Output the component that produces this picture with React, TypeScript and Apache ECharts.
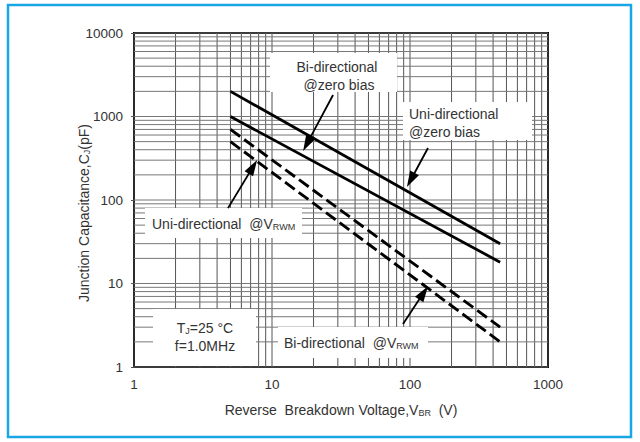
import React, { useEffect, useRef } from "react";
import * as echarts from "echarts";

// Reverse breakdown voltage (V) at the ends of each straight curve
const V_BR = [5, 450];
// Junction capacitance (pF)
const uniZeroBias = [2000, 30];
const biZeroBias = [1000, 18];
const uniVrwm = [700, 3];
const biVrwm = [500, 2];

// tick labels
const xTicks = [1, 10, 100, 1000];
const yTicks = [1, 10, 100, 1000, 10000];

// log grid line positions
const xGrid = [1, 2, 3, 4, 5, 6, 7, 8, 9, 10, 20, 30, 40, 50, 60, 70, 80, 90, 100, 200, 300, 400, 500, 600, 700, 800, 900, 1000];
const yGrid = [1, 2, 3, 4, 5, 6, 7, 8, 9, 10, 20, 30, 40, 50, 60, 70, 80, 90, 100, 200, 300, 400, 500, 600, 700, 800, 900, 1000, 2000, 3000, 4000, 5000, 6000, 7000, 8000, 9000, 10000];

// annotation arrows: [V start, C start, V tip, C tip]
const arrows = [
  [27.7, 1808, 16.8, 386],
  [135, 420, 95, 143],
  [4.8, 80, 7.8, 301],
  [89, 3.27, 135, 9.3],
];

const FONT = "'Liberation Sans', Arial, Helvetica, sans-serif";
const TXT = "#333";

export default function App() {
  const ref = useRef<HTMLDivElement>(null);
  useEffect(() => {
    if (!ref.current) return;
    const chart = echarts.init(ref.current, null, { renderer: "svg" });
    const pair = (ys: number[]) => V_BR.map((v, i) => [v, ys[i]]);
    const subRich = {
      sub: { fontSize: 9, fontFamily: FONT, fill: TXT, color: TXT, verticalAlign: "bottom", padding: [5, 0, 0, 0] },
    };
    const rect = (x: number, y: number, w: number, h: number) => ({
      type: "rect",
      z: 2,
      shape: { x, y, width: w, height: h },
      style: { fill: "#fff", stroke: "none" },
    });
    const text = (x: number, y: number, t: string, align = "left") => ({
      type: "text",
      z: 6,
      x,
      y,
      style: {
        text: t,
        fontSize: 14,
        fontFamily: FONT,
        fill: TXT,
        textAlign: align,
        textVerticalAlign: "middle",
        rich: subRich,
      },
    });
    chart.setOption({
      animation: false,
      backgroundColor: "#fff",
      grid: {
        left: 134,
        right: 92,
        top: 33,
        bottom: 75,
        show: true,
        borderColor: "#000",
        borderWidth: 2,
        backgroundColor: "transparent",
      },
      xAxis: {
        type: "log",
        logBase: 10,
        min: 1,
        max: 1000,
        axisLine: { show: false },
        axisTick: { show: false },
        splitLine: { show: false },
        axisLabel: {
          fontSize: 13.5,
          color: TXT,
          fontFamily: FONT,
          margin: 10,
          formatter: (v: number) => {
            const r = Math.round(v);
            return xTicks.includes(r) ? String(r) : "";
          },
        },
        name: "Reverse  Breakdown Voltage,V{sub|BR}  (V)",
        nameLocation: "middle",
        nameGap: 36,
        nameTextStyle: { fontSize: 14, color: TXT, fontFamily: FONT, rich: subRich },
      },
      yAxis: {
        type: "log",
        logBase: 10,
        min: 1,
        max: 10000,
        axisLine: { show: false },
        axisTick: { show: true, length: 3, lineStyle: { color: "#555" } },
        splitLine: { show: false },
        axisLabel: {
          fontSize: 13.5,
          color: TXT,
          fontFamily: FONT,
          margin: 11,
          formatter: (v: number) => {
            const r = Math.round(v);
            return yTicks.includes(r) ? String(r) : "";
          },
        },
        name: "Junction Capacitance,C{sub|J}(pF)",
        nameLocation: "middle",
        nameGap: 43,
        nameMoveOverlap: false,
        nameTextStyle: {
          fontSize: 14,
          color: TXT,
          fontFamily: FONT,
          rich: subRich,
          padding: [0, 26, 0, 0],
        },
      },
      series: [
        {
          type: "custom",
          z: 1,
          silent: true,
          data: xGrid.map((v) => [v, 1]),
          renderItem: (_p: any, api: any) => {
            const v = api.value(0);
            const a = api.coord([v, 1]);
            const b = api.coord([v, 10000]);
            return {
              type: "line",
              shape: { x1: a[0], y1: a[1], x2: b[0], y2: b[1] },
              style: { stroke: "#555", lineWidth: 1 },
            };
          },
        },
        {
          type: "custom",
          z: 1,
          silent: true,
          data: yGrid.map((v) => [1, v]),
          renderItem: (_p: any, api: any) => {
            const v = api.value(1);
            const a = api.coord([1, v]);
            const b = api.coord([1000, v]);
            return {
              type: "line",
              shape: { x1: a[0], y1: a[1], x2: b[0], y2: b[1] },
              style: { stroke: "#777", lineWidth: 1 },
            };
          },
        },
        {
          type: "line",
          z: 3,
          data: pair(uniZeroBias),
          symbol: "none",
          lineStyle: { color: "#000", width: 2.8 },
        },
        {
          type: "line",
          z: 3,
          data: pair(biZeroBias),
          symbol: "none",
          lineStyle: { color: "#000", width: 2.8 },
        },
        {
          type: "line",
          z: 3,
          data: pair(uniVrwm),
          symbol: "none",
          lineStyle: { color: "#000", width: 2.9, type: [12, 5] },
        },
        {
          type: "line",
          z: 3,
          data: pair(biVrwm),
          symbol: "none",
          lineStyle: { color: "#000", width: 2.9, type: [12, 5] },
        },
        {
          type: "custom",
          z: 5,
          silent: true,
          data: arrows,
          encode: { x: [0, 2], y: [1, 3] },
          renderItem: (_p: any, api: any) => {
            const a = api.coord([api.value(0), api.value(1)]);
            const b = api.coord([api.value(2), api.value(3)]);
            const dx = b[0] - a[0];
            const dy = b[1] - a[1];
            const len = Math.sqrt(dx * dx + dy * dy);
            const ux = dx / len;
            const uy = dy / len;
            const hl = 16;
            const hw = 5;
            const bx = b[0] - ux * hl;
            const by = b[1] - uy * hl;
            return {
              type: "group",
              children: [
                {
                  type: "line",
                  shape: { x1: a[0], y1: a[1], x2: bx + ux * 2, y2: by + uy * 2 },
                  style: { stroke: "#000", lineWidth: 1.8 },
                },
                {
                  type: "polygon",
                  shape: {
                    points: [
                      [b[0], b[1]],
                      [bx - uy * hw, by + ux * hw],
                      [bx + uy * hw, by - ux * hw],
                    ],
                  },
                  style: { fill: "#000" },
                },
              ],
            };
          },
        },
      ],
      graphic: [
        {
          type: "rect",
          z: 10,
          shape: { x: 8, y: 5, width: 623, height: 432 },
          style: { fill: "none", stroke: "#1aa6e4", lineWidth: 2.5 },
        },
        rect(270, 53, 127, 39),
        rect(403, 102, 129, 38),
        rect(145, 208, 157, 30),
        rect(278, 327, 150, 31),
        rect(153, 309, 103, 57),
        text(337, 67, "Bi-directional", "center"),
        text(339, 85, "@zero bias", "center"),
        text(409, 114, "Uni-directional"),
        text(409, 132, "@zero bias"),
        text(152, 224, "Uni-directional  @V{sub|RWM}"),
        text(284, 343, "Bi-directional  @V{sub|RWM}"),
        text(205, 328, "T{sub|J}=25 °C", "center"),
        text(205, 346, "f=1.0MHz", "center"),
      ],
    });
    return () => chart.dispose();
  }, []);
  return (
    <div
      ref={ref}
      style={{ position: "fixed", left: 0, top: 0, width: 640, height: 442, background: "#fff" }}
    />
  );
}
